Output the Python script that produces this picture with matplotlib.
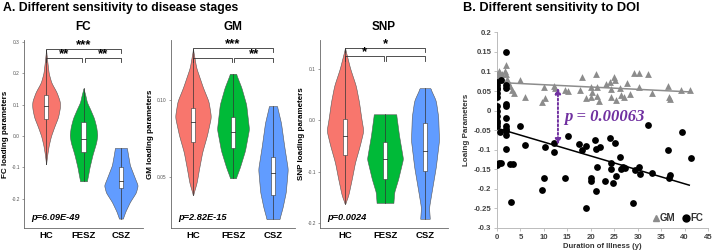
import numpy as np
import matplotlib
matplotlib.use("Agg")
import matplotlib.pyplot as plt
from matplotlib.lines import Line2D

plt.rcParams['font.family'] = ['Liberation Sans', 'DejaVu Sans']

# ---------------- Panel A data ----------------
groups = ["HC", "FESZ", "CSZ"]
group_colors = ["#F8766D", "#00BA38", "#619CFF"]

# violin outlines: (values, half-widths)
fc_profiles = [
    ([-0.09, -0.06, -0.03, 0.0, 0.03, 0.06, 0.09, 0.11, 0.14, 0.17, 0.2, 0.24, 0.275],
     [0.0, 0.03, 0.07, 0.13, 0.22, 0.32, 0.37, 0.37, 0.28, 0.14, 0.07, 0.03, 0.0]),
    ([-0.144, -0.12, -0.1, -0.06, -0.02, 0.003, 0.03, 0.057, 0.085, 0.108, 0.13, 0.152],
     [0.09, 0.13, 0.16, 0.24, 0.34, 0.37, 0.34, 0.28, 0.18, 0.09, 0.05, 0.0]),
    ([-0.263, -0.24, -0.21, -0.18, -0.157, -0.13, -0.093, -0.06, -0.038],
     [0.05, 0.12, 0.24, 0.40, 0.45, 0.36, 0.24, 0.19, 0.16]),
]
fc_box = [  # (min, q1, median, q3, max)
    (-0.09, 0.055, 0.095, 0.13, 0.275),
    (-0.144, -0.05, -0.01, 0.045, 0.152),
    (-0.263, -0.165, -0.142, -0.1, -0.038),
]
gm_profiles = [
    ([0.038, 0.046, 0.055, 0.066, 0.077, 0.089, 0.099, 0.108, 0.121, 0.133],
     [0.0, 0.09, 0.15, 0.23, 0.35, 0.45, 0.39, 0.25, 0.08, 0.0]),
    ([0.049, 0.056, 0.067, 0.081, 0.097, 0.108, 0.117],
     [0.07, 0.17, 0.30, 0.40, 0.33, 0.21, 0.075]),
    ([0.0224, 0.03, 0.04, 0.055, 0.07, 0.085, 0.096],
     [0.16, 0.24, 0.32, 0.37, 0.28, 0.2, 0.1]),
]
gm_box = [
    (0.038, 0.0724, 0.0855, 0.0947, 0.133),
    (0.049, 0.069, 0.079, 0.0888, 0.117),
    (0.0224, 0.038, 0.0526, 0.063, 0.096),
]
snp_profiles = [
    ([-0.163, -0.147, -0.114, -0.082, -0.049, -0.02, 0.003, 0.036, 0.068, 0.101, 0.141],
     [0.0, 0.08, 0.17, 0.25, 0.37, 0.46, 0.41, 0.35, 0.27, 0.13, 0.0]),
    ([-0.161, -0.14, -0.114, -0.075, -0.029, 0.012],
     [0.21, 0.23, 0.33, 0.45, 0.35, 0.28]),
    ([-0.192, -0.17, -0.137, -0.091, -0.039, 0.007, 0.039, 0.063],
     [0.12, 0.10, 0.17, 0.27, 0.35, 0.33, 0.27, 0.13]),
]
snp_box = [
    (-0.163, -0.067, -0.03, 0.002, 0.141),
    (-0.161, -0.114, -0.075, -0.043, 0.012),
    (-0.192, -0.098, -0.059, -0.006, 0.063),
]
fc_sig = [(1, 3, 0.278, "***"), (1, 1.95, 0.249, "**"), (2.05, 3, 0.249, "**")]
gm_sig = [(1, 3, 0.1336, "***"), (1, 1.97, 0.1276, ""), (2.03, 3, 0.1276, "**")]
snp_sig = [(1, 3, 0.141, "*"), (1, 1.97, 0.125, "*"), (2.03, 3, 0.125, "")]

# ---------------- Panel B data ----------------
gm_doi = [0.07, 0.4, 0.7, 1.1, 0.07, 0.4, 0.85, 1.9, 1.8, 2.0, 2.1, 2.3, 2.8, 3.1, 3.6,
          5.0, 6.0, 9.5, 10.0, 10.2, 12.1, 12.3, 14.6, 15.1, 17.8, 18.2, 18.9, 20.0, 20.1,
          20.3, 21.2, 21.3, 21.4, 21.7, 23.3, 24.2, 24.4, 24.4, 24.9, 25.1, 25.3, 26.2,
          26.5, 27.0, 27.8, 28.3, 29.2, 30.2, 30.2, 32.2, 33.1, 36.5, 36.6, 36.8, 39.3, 41.2]
gm_load = [0.093, 0.101, 0.095, 0.093, 0.082, 0.078, 0.088, 0.116, 0.100, 0.093, 0.080,
           0.074, 0.063, 0.052, 0.046, 0.078, 0.034, 0.022, 0.059, 0.031, 0.064, 0.057,
           0.052, 0.051, 0.052, 0.085, 0.033, 0.034, 0.059, 0.048, 0.093, 0.061, 0.037,
           0.025, 0.069, 0.074, 0.054, 0.035, 0.085, 0.078, 0.027, 0.057, 0.040, 0.035,
           0.071, 0.042, 0.095, 0.095, 0.061, 0.093, 0.046, 0.063, 0.035, 0.029, 0.052, 0.052]
fc_doi = [0.0, 0.0, 0.1, 0.0, 0.1, 0.0, 0.0, 0.1, 0.0, 0.1, 0.1, 0.1, 0.0, 0.4, 0.8, 0.6,
          0.8, 2.0, 2.0, 2.0, 2.0, 2.0, 2.0, 2.0, 2.0, 2.0, 2.0, 2.0, 2.7, 3.4, 2.9, 5.0,
          6.0, 9.5, 10.0, 10.2, 12.1, 12.2, 14.6, 15.1, 17.5, 18.2, 18.9, 19.0, 20.1, 20.1,
          21.0, 21.2, 21.4, 21.2, 21.9, 23.1, 24.2, 24.4, 24.4, 24.8, 25.2, 25.3, 26.2,
          26.5, 26.9, 27.4, 29.1, 29.4, 30.3, 30.4, 32.2, 33.1, 36.5, 36.6, 36.8, 39.4, 41.3]
fc_load = [0.074, 0.065, 0.058, 0.054, 0.046, 0.035, 0.011, -0.001, -0.014, -0.027,
           -0.033, -0.040, -0.140, -0.134, 0.078, -0.054, -0.135, 0.149, 0.065, 0.058,
           0.017, 0.011, -0.020, -0.040, -0.046, -0.053, -0.063, -0.099, -0.137, -0.137,
           -0.233, -0.040, -0.088, -0.204, -0.171, -0.093, -0.084, -0.105, -0.171, -0.065,
           -0.086, -0.100, -0.090, -0.249, -0.172, -0.180, -0.074, -0.099, -0.144, -0.205,
           -0.093, -0.181, -0.071, -0.135, -0.148, -0.184, -0.082, -0.168, -0.118, -0.148,
           -0.144, -0.146, -0.236, -0.152, -0.144, -0.163, -0.037, -0.159, -0.101, -0.171,
           -0.165, -0.056, -0.121]
gm_fit = (0.072, -0.00059)   # intercept, slope
fc_fit = (-0.045, -0.00355)
fit_range = (0.0, 41.0)
p_arrow_x = 13.0
p_arrow_y = (0.058, -0.087)

# ---------------- Figure ----------------
W, H = 716, 252
fig = plt.figure(figsize=(W / 100, H / 100), dpi=100)


def smooth_profile(vals, hws, n=200):
    y = np.linspace(vals[0], vals[-1], n)
    w = np.interp(y, vals, hws)
    k = np.hanning(17)
    k /= k.sum()
    pad = len(k) // 2
    wp = np.concatenate([np.full(pad, w[0]), w, np.full(pad, w[-1])])
    ws = np.convolve(wp, k, mode="valid")
    ws[0], ws[-1] = w[0], w[-1]
    return y, ws


def violin_panel(rect, profiles, boxes, sigs, ylim, yticks, yticklabels,
                 title, ylabel, ptext, xlim):
    ax = fig.add_axes(rect)
    for i, (prof, box, col) in enumerate(zip(profiles, boxes, group_colors)):
        pos = i + 1
        y, w = smooth_profile(*prof)
        ax.fill_betweenx(y, pos - w, pos + w, facecolor=col, edgecolor="#555555",
                         linewidth=0.4, zorder=2)
        mn, q1, md, q3, mx = box
        ax.plot([pos, pos], [mn, mx], color="#333333", lw=0.5, zorder=3)
        bw = 0.055
        ax.add_patch(plt.Rectangle((pos - bw, q1), 2 * bw, q3 - q1, facecolor="white",
                                   edgecolor="#333333", lw=0.4, zorder=4))
        ax.plot([pos - bw, pos + bw], [md, md], color="#333333", lw=0.6, zorder=5)
    span = ylim[1] - ylim[0]
    h = span * 0.022
    for x1, x2, yy, lab in sigs:
        ax.plot([x1, x1, x2, x2], [yy - h, yy, yy, yy - h], color="#333333", lw=0.6,
                zorder=6, clip_on=False)
        if lab:
            ax.text((x1 + x2) / 2, yy - span * 0.012, lab, ha="center", va="bottom",
                    fontsize=9.5, fontweight="bold", zorder=7)
    ax.set_xlim(*xlim)
    ax.set_ylim(*ylim)
    ax.set_xticks([1, 2, 3])
    ax.set_xticklabels(groups, fontsize=6.8, fontweight="bold")
    ax.tick_params(axis="x", length=0, pad=2.5)
    ax.set_yticks(yticks)
    ax.set_yticklabels(yticklabels, fontsize=3.5, color="#555555")
    ax.tick_params(axis="y", length=1.5, width=0.4, pad=1.5, color="#555555")
    for s in ["top", "right"]:
        ax.spines[s].set_visible(False)
    for s in ["left", "bottom"]:
        ax.spines[s].set_color("#666666")
        ax.spines[s].set_linewidth(0.6)
    ax.set_title(title, fontsize=8.5, fontweight="bold", pad=7)
    ax.set_ylabel(ylabel, fontsize=5.8, fontweight="bold", labelpad=2)
    ax.text(0.06, 0.055, ptext, transform=ax.transAxes, fontsize=6.7,
            fontweight="bold", fontstyle="italic", ha="left", va="center")
    return ax


bot = 1 - 228 / H
top = 1 - 40 / H
violin_panel([24 / W, bot, 119 / W, top - bot], fc_profiles, fc_box, fc_sig,
             (-0.293, 0.306), [-0.2, -0.1, 0.0, 0.1, 0.2, 0.3],
             ["-0.2", "-0.1", "0.0", "0.1", "0.2", "0.3"],
             "FC", "FC loading parameters", "p=6.09E-49", (0.41, 3.59))
violin_panel([171 / W, bot, 124 / W, top - bot], gm_profiles, gm_box, gm_sig,
             (0.0166, 0.139), [0.05, 0.10], ["0.05", "0.10"],
             "GM", "GM loading parameters", "p=2.82E-15", (0.45, 3.55))
violin_panel([320 / W, bot, 128 / W, top - bot], snp_profiles, snp_box, snp_sig,
             (-0.21, 0.157), [-0.2, -0.1, 0.0, 0.1], ["-0.2", "-0.1", "0.0", "0.1"],
             "SNP", "SNP loading parameters", "p=0.0024", (0.375, 3.575))

fig.text(3 / W, 1 - 8 / H, "A. Different sensitivity to disease stages", fontsize=8.8,
         fontweight="bold", ha="left", va="center")
fig.text(463 / W, 1 - 8 / H, "B. Different sensitivity to DOI", fontsize=9.2,
         fontweight="bold", ha="left", va="center")

# ---------------- Panel B ----------------
axb = fig.add_axes([497 / W, bot, 211 / W, (228 - 32.3) / H])
axb.scatter(gm_doi, gm_load, marker="^", s=24, color="#8c8c8c", linewidths=0, zorder=3)
axb.scatter(fc_doi, fc_load, marker="o", s=24, color="black", linewidths=0, zorder=4)
xs = np.array(fit_range)
axb.plot(xs, gm_fit[0] + gm_fit[1] * xs, color="#8c8c8c", lw=1.1, zorder=2)
axb.plot(xs, fc_fit[0] + fc_fit[1] * xs, color="black", lw=1.1, zorder=2)
axb.annotate("", xy=(p_arrow_x, p_arrow_y[1]), xytext=(p_arrow_x, p_arrow_y[0]),
             arrowprops=dict(arrowstyle="<|-|>", linestyle=(0, (1, 1.2)), color="#7030A0",
                             lw=1.4, mutation_scale=8, shrinkA=0, shrinkB=0), zorder=5)
axb.text(p_arrow_x + 1.3, -0.017, "p = 0.00063", fontsize=12, color="#7030A0",
         fontweight="bold", fontstyle="italic", family=["Liberation Serif"],
         ha="left", va="center")
axb.set_xlim(0, 45)
axb.set_ylim(-0.3, 0.2)
axb.set_xticks(np.arange(0, 46, 5))
axb.set_yticks(np.round(np.arange(-0.3, 0.201, 0.05), 2))
axb.set_yticklabels(["-0.3", "-0.25", "-0.2", "-0.15", "-0.1", "-0.05", "0", "0.05",
                     "0.1", "0.15", "0.2"])
for lab in axb.get_xticklabels() + axb.get_yticklabels():
    lab.set_fontsize(5.6)
    lab.set_fontweight("bold")
    lab.set_color("#444444")
axb.tick_params(length=2, width=0.5, color="#aaaaaa", pad=2)
for s in ["top", "right"]:
    axb.spines[s].set_visible(False)
for s in ["left", "bottom"]:
    axb.spines[s].set_color("#bbbbbb")
    axb.spines[s].set_linewidth(0.7)
axb.set_xlabel("Duration of Illness (y)", fontsize=5.5, fontweight="bold",
               color="#333333", labelpad=1.5)
axb.set_ylabel("Loaing Parameters", fontsize=5.8, fontweight="bold",
               color="#333333", labelpad=3)
handles = [Line2D([], [], marker="^", ls="", color="#8c8c8c", markersize=5),
           Line2D([], [], marker="o", ls="", color="black", markersize=5)]
leg = axb.legend(handles, ["GM", "FC"], loc="lower right", ncol=2, frameon=False,
                 handlelength=0.6, handletextpad=0.1, columnspacing=0.8,
                 borderaxespad=0.1, prop={"size": 7, "weight": "bold"})
for t in leg.get_texts():
    t.set_color("#333333")

fig.savefig("out.png", dpi=100)
